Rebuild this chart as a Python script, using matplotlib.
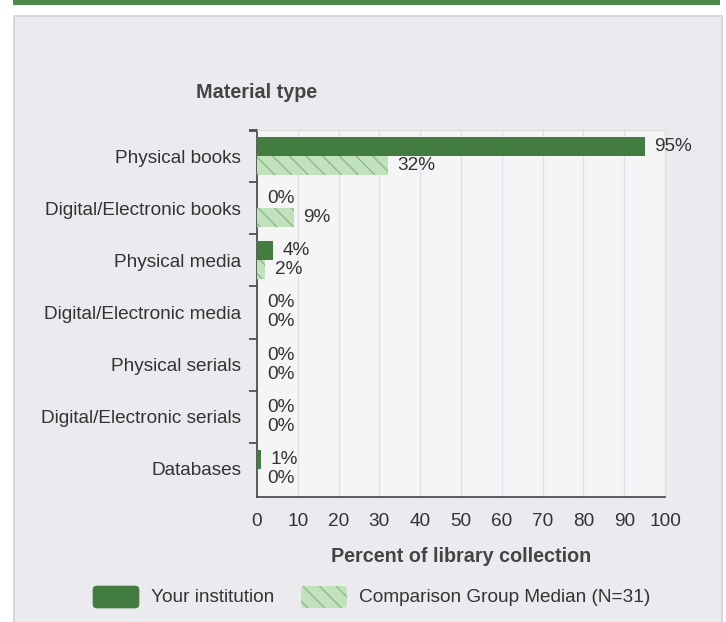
import numpy as np
import matplotlib.pyplot as plt
from matplotlib.patches import Rectangle, FancyBboxPatch

plt.rcParams['font.family'] = ['Liberation Sans', 'DejaVu Sans']
plt.rcParams['hatch.linewidth'] = 0.9

categories = ["Physical books", "Digital/Electronic books", "Physical media",
              "Digital/Electronic media", "Physical serials",
              "Digital/Electronic serials", "Databases"]
institution = [95, 0, 4, 0, 0, 0, 1]
median = [32, 9, 2, 0, 0, 0, 0]
xticks = np.arange(0, 101, 10)

dark = '#437c40'
light = '#c2e2bd'
hatch_col = '#86b881'
txt = '#333333'
fs = 13.7

W, H = 726, 622
fig = plt.figure(figsize=(W / 100, H / 100), dpi=100)
fig.patch.set_facecolor('white')

# background panel drawn in pixel units
bg = fig.add_axes([0, 0, 1, 1], zorder=-1)
bg.set_xlim(0, W)
bg.set_ylim(H, 0)
bg.axis('off')
bg.add_patch(Rectangle((13, 0), 707, 5, color='#4e8a4c', lw=0))
bg.add_patch(Rectangle((14, 16), 708, 620, facecolor='#ebebef',
                       edgecolor='#d2d2d4', lw=1.2))
bg.text(257, 92, "Material type", ha='center', va='center',
        fontsize=14.2, fontweight='bold', color='#444444')

# legend
bg.add_patch(FancyBboxPatch((93, 586), 46, 22, boxstyle="round,pad=0,rounding_size=4",
                            facecolor=dark, edgecolor=dark, lw=0.5))
bg.text(151, 597, "Your institution", ha='left', va='center', fontsize=fs, color=txt)
bg.add_patch(FancyBboxPatch((301, 586), 46, 22, boxstyle="round,pad=0,rounding_size=4",
                            facecolor=light, edgecolor=hatch_col, lw=0, hatch='\\\\'))
bg.text(359, 597, "Comparison Group Median (N=31)", ha='left', va='center',
        fontsize=fs, color=txt)

left, right, top, bottom = 257, 665, 130, 497
ax = fig.add_axes([left / W, 1 - bottom / H, (right - left) / W, (bottom - top) / H])
ax.set_facecolor('#f5f5f5')

y = np.arange(len(categories))
h = 0.365
ax.barh(y - h / 2, institution, height=h, color=dark, lw=0, zorder=3)
ax.barh(y + h / 2, median, height=h, color=light, edgecolor=hatch_col, lw=0,
        hatch='\\\\', zorder=3)

for yi, v in zip(y, institution):
    ax.text(v + 2.4, yi - h / 2, f"{v}%", ha='left', va='center', fontsize=fs, color=txt)
for yi, v in zip(y, median):
    ax.text(v + 2.4, yi + h / 2, f"{v}%", ha='left', va='center', fontsize=fs, color=txt)

ax.set_xlim(0, 100)
ax.set_ylim(6.54, -0.48)
ax.set_xticks(xticks)
ax.set_xticklabels([str(t) for t in xticks], fontsize=fs, color=txt)
ax.tick_params(axis='x', length=0, pad=11.5)
ax.set_yticks(y)
ax.set_yticklabels(categories, fontsize=fs, color=txt)
ax.tick_params(axis='y', which='major', length=0, pad=11.5)
ax.set_yticks(np.arange(-0.5, 7, 1)[:-1].tolist() + [-0.48], minor=True)
ax.tick_params(axis='y', which='minor', length=6, width=1.2, color='#444444')
ax.grid(axis='x', color='#d9e2ef', lw=1, zorder=0)

for s in ['top', 'right']:
    ax.spines[s].set_color('#dcdcdc')
for s in ['left', 'bottom']:
    ax.spines[s].set_color('#444444')
    ax.spines[s].set_linewidth(1.2)

ax.set_xlabel("Percent of library collection", fontsize=14.2, fontweight='bold',
              color='#444444', labelpad=12)

fig.savefig('out.png', dpi=100)
